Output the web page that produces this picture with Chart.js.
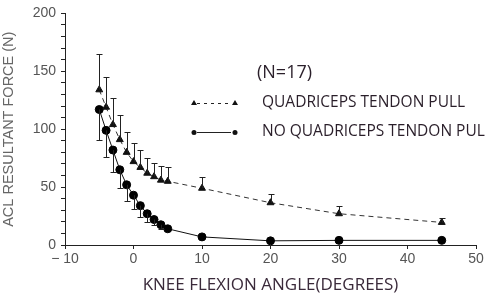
<!DOCTYPE html>
<html>
<head>
<meta charset="utf-8">
<script src="https://cdn.jsdelivr.net/npm/chart.js@4"></script>
<style>
  html, body { margin: 0; padding: 0; background: #fff; }
  #wrap { width: 500px; height: 301px; }
</style>
</head>
<body>
<div id="wrap"><canvas id="acl"></canvas></div>
<script>
// knee flexion angles (degrees)
const angles = [-5, -4, -3, -2, -1, 0, 1, 2, 3, 4, 5, 10, 20, 30, 45];
// ACL force (N)
const quadPull = [134, 119, 104, 91, 80, 72, 67, 62, 59, 56, 55, 49, 36.5, 27, 19.5];
const quadPullSD = [31, 26, 23, 21, 18, 16, 15, 13, 12, 12, 12, 9.5, 7.5, 6.5, 3.5];
const noQuadPull = [117, 99, 82, 65, 52, 43, 34, 27, 22, 17.5, 14, 7, 3.6, 4, 4];
const noQuadPullSD = [26, 23, 19, 16, 14, 12, 10, 7, 5, 4, 0, 0, 0, 0, 0];
const xTicks = [-10, 0, 10, 20, 30, 40, 50];
const yTicks = [0, 50, 100, 150, 200];

const ctx = document.getElementById('acl').getContext('2d');

// one-sided error bars: up for the quadriceps series, down for the other
const errorBars = {
    id: 'errorBars',
    afterDatasetsDraw(chart) {
        const { ctx, scales: { x, y } } = chart;
        const sides = [[quadPull, quadPullSD, 1], [noQuadPull, noQuadPullSD, -1]];
        ctx.save();
        ctx.strokeStyle = '#222';
        ctx.lineWidth = 1;
        sides.forEach(([vals, sd, dir]) => {
            vals.forEach((v, i) => {
                if (!sd[i]) return;
                const px = Math.round(x.getPixelForValue(angles[i])) + 0.5;
                const y0 = y.getPixelForValue(v);
                const y1 = Math.round(y.getPixelForValue(v + dir * sd[i])) + 0.5;
                ctx.beginPath();
                ctx.moveTo(px, y0);
                ctx.lineTo(px, y1);
                ctx.moveTo(px - 3, y1);
                ctx.lineTo(px + 3, y1);
                ctx.stroke();
            });
        });
        ctx.restore();
    }
};

// (N=17) note and the hand-placed legend
const notes = {
    id: 'notes',
    afterDraw(chart) {
        const c = chart.ctx;
        c.save();
        c.fillStyle = '#2a1f2a';
        c.textBaseline = 'middle';
        c.font = '18px "Open Sans"';
        c.fillText('(N=17)', 257, 73);
        c.font = '15.5px "Open Sans"';
        c.fillText('QUADRICEPS TENDON PULL', 262, 103);
        c.fillText('NO QUADRICEPS TENDON PUL', 262, 132);

        c.strokeStyle = '#222';
        c.fillStyle = '#111';
        c.lineWidth = 1;
        c.setLineDash([3, 4]);
        c.beginPath(); c.moveTo(197, 103.5); c.lineTo(231, 103.5); c.stroke();
        c.setLineDash([]);
        c.beginPath(); c.moveTo(197, 132.5); c.lineTo(231, 132.5); c.stroke();
        [194, 235].forEach(px => {
            c.beginPath();
            c.moveTo(px, 100); c.lineTo(px + 3, 105); c.lineTo(px - 3, 105); c.closePath();
            c.fill();
            c.beginPath(); c.arc(px, 132.5, 2.5, 0, Math.PI * 2); c.fill();
        });
        c.restore();
    }
};

new Chart(ctx, {
    type: 'line',
    data: {
        datasets: [
            {
                label: 'QUADRICEPS TENDON PULL',
                data: angles.map((a, i) => ({ x: a, y: quadPull[i] })),
                borderColor: '#333',
                borderWidth: 1,
                borderDash: [5, 4],
                pointStyle: 'triangle',
                pointRadius: 4,
                pointBackgroundColor: '#111',
                pointBorderColor: '#111',
                tension: 0,
            },
            {
                label: 'NO QUADRICEPS TENDON PUL',
                data: angles.map((a, i) => ({ x: a, y: noQuadPull[i] })),
                borderColor: '#111',
                borderWidth: 1,
                pointStyle: 'circle',
                pointRadius: 4,
                pointBackgroundColor: '#000',
                pointBorderColor: '#000',
                tension: 0,
            },
        ],
    },
    options: {
        responsive: true,
        maintainAspectRatio: false,
        animation: false,
        layout: { padding: { top: 8, right: 24, left: 0, bottom: 0 } },
        plugins: {
            legend: { display: false },
            tooltip: { enabled: false },
        },
        scales: {
            x: {
                type: 'linear',
                min: -10,
                max: 50,
                afterBuildTicks: s => { s.ticks = xTicks.map(v => ({ value: v })); },
                afterFit: s => { s.height = 56; },
                border: { color: '#222', width: 1 },
                grid: { drawOnChartArea: false, tickLength: 4, color: '#222' },
                ticks: {
                    color: '#555',
                    font: { family: 'Liberation Sans', size: 14 },
                    padding: 2,
                    callback: v => (v < 0 ? '\u2212 ' + Math.abs(v) : v),
                },
                title: {
                    display: true,
                    text: 'KNEE FLEXION ANGLE(DEGREES)',
                    color: '#3a2a3a',
                    font: { family: 'Open Sans', size: 17 },
                    padding: { top: 4, bottom: 6 },
                },
            },
            y: {
                min: 0,
                max: 200,
                afterBuildTicks: s => {
                    const t = [];
                    for (let v = 0; v <= 200; v += 10) t.push({ value: v });
                    s.ticks = t;
                },
                afterFit: s => { s.width = 65; },
                border: { color: '#222', width: 1 },
                grid: { drawOnChartArea: false, tickLength: 4, color: '#222' },
                ticks: {
                    color: '#555',
                    font: { family: 'Liberation Sans', size: 14 },
                    padding: 5,
                    autoSkip: false,
                    callback: v => (yTicks.includes(v) ? v : ''),
                },
                title: {
                    display: true,
                    text: 'ACL RESULTANT FORCE (N)',
                    color: '#666',
                    font: { family: 'Liberation Sans', size: 14.5 },
                    padding: { top: 0, bottom: 20 },
                },
            },
        },
    },
    plugins: [errorBars, notes],
});
</script>
</body>
</html>
